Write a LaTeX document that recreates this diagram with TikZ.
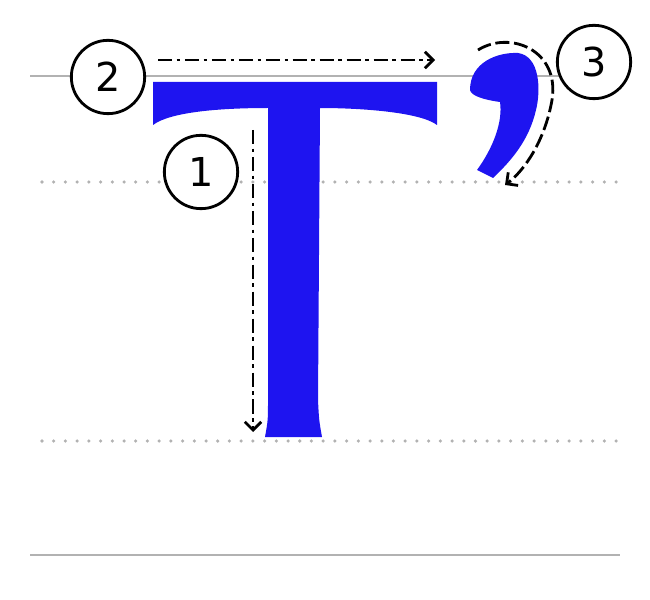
\documentclass[tikz,border=0pt]{standalone}
\usepackage{fontspec}
\setmainfont{DejaVu Sans}
\usetikzlibrary{arrows.meta}
\definecolor{glyph}{HTML}{1E14F0}
\tikzset{
  guide/.style={draw=black!30, line width=2.5pt},
  dotguide/.style={draw=black!30, line width=3pt, line cap=round, dash pattern=on 0pt off 10pt},
  num/.style={draw, fill=white, circle, line width=2.4pt, minimum size=2.2cm, font=\fontsize{34}{34}\selectfont},
  stroke/.style={line width=2.4pt, -{Straight Barb[length=7pt,width=14pt]}}
}
\begin{document}
\begin{tikzpicture}[x=0.03cm, y=-0.03cm]
	\useasboundingbox (0,0) rectangle (650,600);
	
	%guide lines
	\draw[guide] (30,76) -- (620,76);
	\draw[guide] (30,555) -- (620,555);
	\draw[dotguide] (42,182) -- (620,182);
	\draw[dotguide] (42,441) -- (620,441);
	
	%letter
	\fill[glyph] (153,82) -- (437,82) -- (437,125) .. controls (420,112) and (360,108) .. (320,108)
	  -- (318,400) .. controls (319,420) .. (322,437) -- (265,437) .. controls (268,420) .. (268,400)
	  -- (268,108) .. controls (220,108) and (170,112) .. (153,125) -- cycle;
	\fill[glyph] (470,90) .. controls (470,62) and (498,52) .. (518,53) .. controls (540,56) and (541,90) .. (536,110)
	  .. controls (529,140) and (512,160) .. (493,178) -- (477,170) .. controls (493,148) and (503,122) .. (500,102)
	  .. controls (485,100) and (471,96) .. (470,90) -- cycle;
	
	%numbers
	\node[num] (n2) at (108,77){2};
	\node[num] (n1) at (201,172){1};
	\node[num] (n3) at (594,62){3};
	
	%strokes
	\coordinate (s1) at (253,130);
	\coordinate (e1) at (253,432);
	\coordinate (s2) at (158,60);
	\coordinate (e2) at (435,60);
	\coordinate (s3) at (478,50);
	\coordinate (e3) at (505,185);
	\draw[stroke, dash pattern=on 12pt off 4pt on 3pt off 4pt] (s1) -- (e1);
	\draw[stroke, dash pattern=on 12pt off 4pt on 3pt off 4pt] (s2) -- (e2);
	\draw[stroke, dash pattern=on 12pt off 4pt] (s3) .. controls (510,30) and (560,50) .. (552,100)
	  .. controls (545,140) and (525,170) .. (e3);
	
\end{tikzpicture}
\end{document}
